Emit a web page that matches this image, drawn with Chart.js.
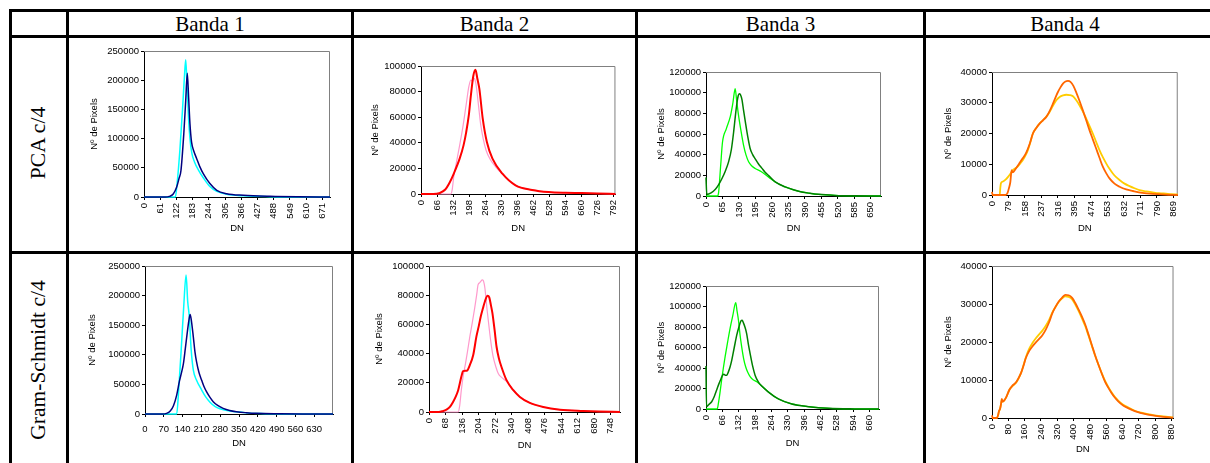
<!DOCTYPE html>
<html>
<head>
<meta charset="utf-8">
<script src="https://cdn.jsdelivr.net/npm/chart.js@4.4.1/dist/chart.umd.min.js"></script>
<style>
  html, body { margin: 0; padding: 0; background: #fff; overflow: hidden; }
  body { width: 1210px; height: 463px; position: relative; }
  .hl { position: absolute; left: 9px; width: 1220px; height: 3px; background: #000; }
  .vl { position: absolute; top: 9px; height: 470px; width: 3px; background: #000; }
  .head { position: absolute; top: 12px; height: 24px; line-height: 24px; text-align: center;
          font: 21px "Liberation Serif", "Times New Roman", serif; color: #000; }
  .rowlab { position: absolute; left: 38px; white-space: nowrap; line-height: normal;
            font: 21.5px "Liberation Serif", "Times New Roman", serif; color: #000;
            transform: translate(-50%, -50%) rotate(-90deg); }
  canvas { position: absolute; }
</style>
</head>
<body>
<div class="hl" style="top:9px"></div>
<div class="hl" style="top:35px"></div>
<div class="hl" style="top:251px"></div>
<div class="vl" style="left:9px"></div>
<div class="vl" style="left:66px"></div>
<div class="vl" style="left:351px"></div>
<div class="vl" style="left:635px"></div>
<div class="vl" style="left:923px"></div>

<div class="head" style="left:69px;width:282px">Banda 1</div>
<div class="head" style="left:354px;width:281px">Banda 2</div>
<div class="head" style="left:638px;width:285px">Banda 3</div>
<div class="head" style="left:926px;width:278px">Banda 4</div>
<div class="rowlab" style="top:143px">PCA c/4</div>
<div class="rowlab" style="top:360px">Gram-Schmidt c/4</div>

<script>
'use strict';

// ---- x tick labels (DN) per panel ----
const pcaB1Ticks = [0, 61, 122, 183, 244, 305, 366, 427, 488, 549, 610, 671];
const pcaB2Ticks = [0, 66, 132, 198, 264, 330, 396, 462, 528, 594, 660, 726, 792];
const pcaB3Ticks = [0, 65, 130, 195, 260, 325, 390, 455, 520, 585, 650];
const pcaB4Ticks = [0, 79, 158, 237, 316, 395, 474, 553, 632, 711, 790, 869];
const gsB1Ticks  = [0, 70, 140, 210, 280, 350, 420, 490, 560, 630];
const gsB2Ticks  = [0, 68, 136, 204, 272, 340, 408, 476, 544, 612, 680, 748];
const gsB3Ticks  = [0, 66, 132, 198, 264, 330, 396, 462, 528, 594, 660];
const gsB4Ticks  = [0, 80, 160, 240, 320, 400, 480, 560, 640, 720, 800, 880];

// ---- histograms: [DN, pixel count] ----
// PCA c/4, banda 1
const pcaB1Dark = [[0,0],[80,0],[95,1000],[110,5000],[123,17000],[132,32000],[139,45000],[150,110000],[157,165000],[163,212000],
  [168,170000],[173,125000],[179,94000],[188,78000],[198,66000],[210,52000],[223,40000],[248,23000],[274,11400],[311,5700],
  [374,2900],[474,1100],[580,300],[700,0]];
const pcaB1Light = [[0,0],[118,0],[125,25000],[135,80000],[145,150000],[152,205000],[157,235000],[162,190000],[167,140000],
  [173,100000],[180,75000],[190,60000],[205,46000],[223,33000],[248,18000],[274,9500],[311,4500],[374,2000],[474,600],[580,0],[700,0]];

// PCA c/4, banda 2
const pcaB2Dark = [[0,0],[50,0],[75,600],[100,3500],[118,9000],[135,16000],[159,27600],[175,38000],[186,48400],[197,62000],
  [206,78400],[215,92000],[224,97100],[232,90000],[240,82300],[254,58900],[271,40600],[294,27600],[335,15900],[389,6800],
  [457,3200],[525,1500],[594,900],[660,700],[726,400],[800,0]];
const pcaB2Light = [[0,0],[122,0],[128,3000],[135,14000],[145,24000],[159,38000],[172,52000],[186,70000],[197,84000],[205,89000],
  [212,88000],[218,90500],[226,86000],[235,72000],[245,55000],[256,43000],[268,34000],[285,27000],[308,21000],[335,15500],
  [389,6800],[457,3200],[525,1500],[594,900],[660,700],[726,400],[800,0]];

// PCA c/4, banda 3
const pcaB3Dark = [[0,18000],[3,1500],[20,3000],[37,6500],[50,11000],[63,16900],[76,24000],[89,33000],[100,45000],[109,62000],
  [116,78000],[122,90000],[127,97000],[131,99000],[136,98000],[142,93000],[148,83000],[155,72000],[165,57000],[174,46000],
  [184,40000],[194,36000],[207,31000],[220,27000],[233,23000],[246,20000],[273,13600],[312,8800],[345,6000],[377,3900],
  [410,2600],[443,1600],[509,600],[590,150],[690,0]];
const pcaB3Light = [[0,0],[46,0],[50,4000],[58,30000],[65,52000],[80,65000],[96,77000],[106,90000],[115,103800],[121,92000],
  [128,78500],[138,63000],[148,49300],[158,39500],[168,33100],[181,29000],[194,26600],[220,23300],[240,19500],[253,17000],
  [273,13600],[312,8800],[345,6000],[377,3900],[410,2600],[443,1600],[509,600],[590,150],[690,0]];

// PCA c/4, banda 4
const pcaB4Dark = [[0,1000],[3,0],[65,0],[75,800],[81,2200],[88,4300],[94,8100],[99,7400],[104,7600],[116,8800],[130,10200],
  [148,12000],[164,13800],[180,16500],[196,20000],[212,21800],[228,23200],[244,24300],[260,25400],[276,27300],[292,29700],
  [305,31800],[316,33500],[328,35000],[340,36200],[352,36900],[364,37100],[376,36800],[390,35500],[404,33300],[420,30500],
  [435,27600],[451,24400],[467,21100],[483,18100],[499,15100],[515,12100],[531,9200],[547,7100],[563,5400],[587,3700],
  [611,2700],[643,1800],[675,1300],[720,700],[770,350],[830,120],[890,0]];
const pcaB4Light = [[0,0],[37,0],[40,2500],[43,3900],[53,4400],[65,5000],[77,5900],[89,7000],[100,8100],[112,8700],[124,9300],
  [136,10300],[148,11400],[160,12800],[172,14600],[184,17200],[196,20000],[212,21800],[228,23200],[244,24300],[260,25400],
  [276,27000],[292,29000],[308,30800],[324,31900],[340,32400],[356,32600],[372,32500],[388,32100],[404,30800],[419,29200],
  [435,27200],[451,24900],[467,22500],[483,20000],[499,17300],[515,14600],[531,12300],[547,10300],[563,8500],[579,7000],
  [595,5800],[611,4900],[635,3700],[659,2900],[683,2200],[707,1600],[740,1150],[770,860],[800,600],[834,430],[860,300],[890,200]];

// Gram-Schmidt c/4, banda 1
const gsB1Dark = [[0,0],[65,0],[80,1000],[94,5000],[106,14000],[118,32000],[128,55000],[137,72000],[143,85000],[150,110000],
  [158,140000],[164,160000],[168,168000],[172,160000],[180,130000],[186,105000],[192,88000],[201,70000],[211,57000],
  [220,46000],[229,37700],[242,28000],[254,20800],[272,14000],[291,9600],[315,6000],[340,3900],[377,2200],[414,1100],
  [500,400],[600,100],[700,0]];
const gsB1Light = [[0,0],[118,0],[126,45000],[135,110000],[144,180000],[153,235000],[159,190000],[165,164000],[172,108000],
  [180,74000],[192,57000],[211,40500],[226,29000],[242,20000],[260,13000],[279,9000],[310,5500],[340,3600],[377,1900],
  [430,700],[520,100],[700,0]];

// Gram-Schmidt c/4, banda 2
const gsB2Dark = [[0,0],[40,0],[55,500],[72,1600],[86,3500],[99,6900],[110,10500],[120,14900],[133,24100],[140,28000],
  [150,28200],[157,28400],[168,32100],[182,39000],[195,51600],[205,59000],[213,65400],[222,71000],[230,75700],[241,79600],
  [248,78500],[255,73000],[261,67700],[270,56000],[278,44700],[288,36500],[298,31000],[319,21800],[347,14900],[374,10300],
  [415,6200],[470,3400],[539,1600],[635,700],[700,300],[786,0]];
const gsB2Light = [[0,0],[120,0],[126,4000],[133,15000],[141,25000],[150,33000],[158,41000],[168,51600],[178,61000],
  [188,71100],[196,80000],[202,87200],[208,88500],[213,89500],[219,90500],[223,90200],[227,88000],[230,84900],[239,70000],
  [250,53900],[257,45000],[264,37900],[275,31000],[285,26400],[300,23500],[319,21000],[347,14900],[374,10300],[415,6200],
  [470,3400],[539,1600],[635,700],[700,300],[786,0]];

// Gram-Schmidt c/4, banda 3
const gsB3Dark = [[0,42000],[2,2300],[12,4500],[23,7100],[33,12000],[43,18500],[52,24500],[61,29800],[67,33000],[72,34000],
  [78,33000],[84,33000],[90,36000],[97,41000],[104,47700],[114,60000],[124,72000],[134,81000],[141,85900],[146,86500],
  [151,84000],[157,80000],[164,73600],[171,63000],[178,54000],[188,42000],[198,33000],[211,26500],[225,22400],[252,16500],
  [292,9800],[346,4900],[414,2300],[495,650],[600,100],[698,0]];
const gsB3Light = [[0,0],[45,0],[50,5500],[57,17000],[63,28200],[70,40000],[77,50900],[87,65000],[97,78500],[108,91000],
  [120,103800],[125,96000],[131,86600],[137,73000],[144,60600],[152,49000],[160,41200],[168,36000],[178,31500],[190,28500],
  [205,26600],[218,24000],[232,21000],[252,16500],[292,9800],[346,4900],[414,2300],[495,650],[600,100],[698,0]];

// Gram-Schmidt c/4, banda 4
const gsB4Dark = [[0,700],[3,0],[24,0],[30,800],[34,1750],[40,2500],[45,3900],[48,5000],[52,4300],[58,4500],[70,5500],
  [86,7500],[100,8500],[118,9400],[130,10500],[142,11800],[154,13700],[166,15800],[182,17600],[199,18900],[215,19900],
  [231,20800],[247,21800],[263,23200],[280,25200],[296,27600],[312,29300],[328,30700],[344,31700],[360,32400],[376,32300],
  [393,31600],[409,30200],[425,28500],[441,26700],[457,24600],[473,22000],[489,19300],[505,16600],[522,14000],[538,11700],
  [554,9600],[570,8000],[586,6600],[602,5400],[619,4400],[643,3300],[667,2600],[700,1800],[732,1300],[764,900],[796,600],
  [840,300],[888,100]];
const gsB4Light = [[0,0],[24,0],[30,700],[34,1700],[40,2500],[45,3900],[48,4800],[52,4300],[58,4500],[70,5500],[86,7500],
  [100,8400],[118,9300],[130,10400],[142,11800],[154,13800],[166,16000],[182,18200],[199,19800],[215,21000],[231,22000],
  [247,23000],[263,24200],[280,25800],[296,27800],[312,29300],[328,30600],[344,31500],[360,32000],[376,31900],[393,31200],
  [409,29800],[425,28100],[441,26200],[457,24200],[473,21700],[489,19100],[505,16500],[522,14000],[538,11800],[554,9800],
  [570,8200],[586,6800],[602,5600],[619,4600],[643,3500],[667,2800],[700,1900],[732,1400],[764,1000],[796,700],[840,400],
  [888,150]];

// ---- panel layout: plot rect [left, top, right, bottom], y-title centre x, x-title centre y ----
const panels = [
  { plot: [144, 51, 330, 197],  titleX: 95,  dnY: 228, xMax: 700, yMax: 250000, yStep: 50000, ticks: pcaB1Ticks, rot: 90,
    lines: [[pcaB1Dark, '#000080', 1.5], [pcaB1Light, '#00FFFF', 1.5]] },
  { plot: [421, 66, 618, 194],  titleX: 376, dnY: 228, xMax: 800, yMax: 100000, yStep: 20000, ticks: pcaB2Ticks, rot: 90,
    lines: [[pcaB2Dark, '#FF0000', 2], [pcaB2Light, '#FF99CC', 1.2]] },
  { plot: [706, 72, 881, 196],  titleX: 662, dnY: 228, xMax: 690, yMax: 120000, yStep: 20000, ticks: pcaB3Ticks, rot: 90,
    lines: [[pcaB3Dark, '#008000', 1.5], [pcaB3Light, '#00FF00', 1.3]] },
  { plot: [992, 72, 1178, 195], titleX: 949, dnY: 228, xMax: 890, yMax: 40000,  yStep: 10000, ticks: pcaB4Ticks, rot: 90,
    lines: [[pcaB4Dark, '#FF6600', 1.8], [pcaB4Light, '#FFCC00', 1.8]] },
  { plot: [145, 266, 333, 414], titleX: 93,  dnY: 443, xMax: 700, yMax: 250000, yStep: 50000, ticks: gsB1Ticks,  rot: 0,
    lines: [[gsB1Dark, '#000080', 1.5], [gsB1Light, '#00FFFF', 1.5]] },
  { plot: [429, 266, 620, 412], titleX: 380, dnY: 445, xMax: 786, yMax: 100000, yStep: 20000, ticks: gsB2Ticks,  rot: 90,
    lines: [[gsB2Dark, '#FF0000', 2], [gsB2Light, '#FF99CC', 1.2]] },
  { plot: [706, 286, 879, 409], titleX: 662, dnY: 443, xMax: 698, yMax: 120000, yStep: 20000, ticks: gsB3Ticks,  rot: 90,
    lines: [[gsB3Dark, '#008000', 1.5], [gsB3Light, '#00FF00', 1.3]] },
  { plot: [992, 266, 1176, 418], titleX: 949, dnY: 449, xMax: 890, yMax: 40000, yStep: 10000, ticks: gsB4Ticks,  rot: 90,
    lines: [[gsB4Dark, '#FF6600', 1.8], [gsB4Light, '#FFCC00', 1.8]] },
];

const FONT = { family: '"Liberation Sans", Arial, sans-serif', size: 9.5 };
const LH = FONT.size * 1.2;
const PAD_TOP = 8, PAD_RIGHT = 10;

Chart.defaults.color = '#000';
Chart.defaults.font.family = FONT.family;

// Excel-style plot area frame (grey top and right edges)
const plotFrame = {
  id: 'plotFrame',
  beforeDatasetsDraw(chart) {
    const { ctx, chartArea: a } = chart;
    ctx.save();
    ctx.strokeStyle = '#808080';
    ctx.lineWidth = 1;
    ctx.beginPath();
    ctx.moveTo(a.left, a.top + 0.5);
    ctx.lineTo(a.right - 0.5, a.top + 0.5);
    ctx.lineTo(a.right - 0.5, a.bottom);
    ctx.stroke();
    ctx.restore();
  },
};

function renderPanel(p) {
  const [pl, pt, pr, pb] = p.plot;
  const left = Math.round(p.titleX - LH / 2);
  const top = pt - PAD_TOP;
  const right = pr + PAD_RIGHT;
  const bottom = Math.round(p.dnY + LH / 2);
  const yW = pl - left;
  const xH = bottom - pb;

  const canvas = document.createElement('canvas');
  canvas.width = right - left;
  canvas.height = bottom - top;
  canvas.style.left = left + 'px';
  canvas.style.top = top + 'px';
  document.body.appendChild(canvas);

  const axisGrid = { drawOnChartArea: false, drawTicks: true, tickLength: 3, color: '#000' };

  new Chart(canvas.getContext('2d'), {
    type: 'line',
    data: {
      datasets: p.lines.map(([pts, color, w]) => ({
        data: pts.map(([x, y]) => ({ x, y })),
        borderColor: color,
        borderWidth: w,
        pointRadius: 0,
        fill: false,
        cubicInterpolationMode: 'monotone',
        clip: 3,
      })),
    },
    options: {
      responsive: false,
      animation: false,
      events: [],
      layout: { padding: { top: PAD_TOP, right: PAD_RIGHT, left: 0, bottom: 0 } },
      plugins: { legend: { display: false }, tooltip: { enabled: false } },
      scales: {
        x: {
          type: 'linear',
          min: 0,
          max: p.xMax,
          afterBuildTicks: (s) => { s.ticks = p.ticks.map(v => ({ value: v })); },
          afterFit: (s) => { s.height = xH; },
          ticks: {
            autoSkip: false,
            minRotation: p.rot,
            maxRotation: p.rot,
            padding: p.rot ? 3 : 7,
            font: FONT,
            callback: (v) => String(v),
          },
          grid: axisGrid,
          border: { display: true, color: '#000', width: 1 },
          title: { display: true, text: 'DN', padding: 0, font: FONT },
        },
        y: {
          type: 'linear',
          min: 0,
          max: p.yMax,
          afterFit: (s) => { s.width = yW; },
          ticks: { stepSize: p.yStep, padding: 2, font: FONT, callback: (v) => String(v) },
          grid: axisGrid,
          border: { display: true, color: '#000', width: 1 },
          title: { display: true, text: 'Nº de Pixels', padding: 0, font: FONT },
        },
      },
    },
    plugins: [plotFrame],
  });
}

panels.forEach(renderPanel);
</script>
</body>
</html>
